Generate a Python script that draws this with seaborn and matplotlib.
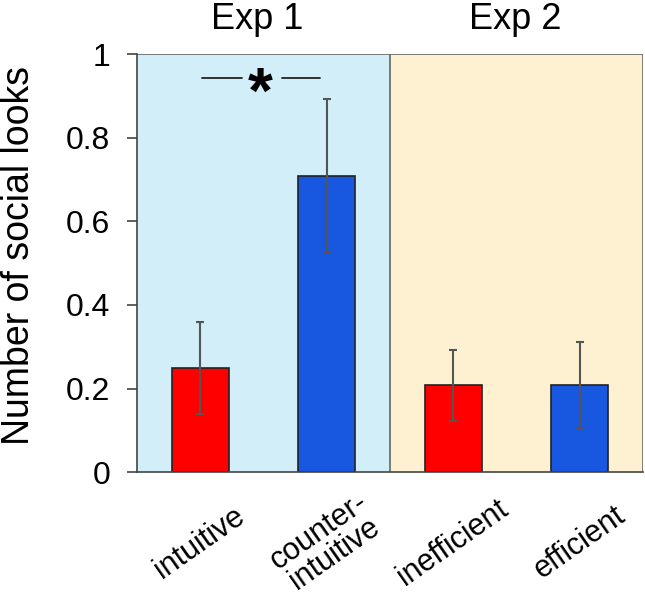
import matplotlib
matplotlib.use("Agg")
from matplotlib import pyplot as plt
import numpy as np
import pandas
import seaborn as sns

# data
conditions = ["intuitive", "counter-\nintuitive", "inefficient", "efficient"]
means = [0.25, 0.708, 0.208, 0.208]
errors = [0.11, 0.185, 0.085, 0.104]
bar_colors = ["#ff0000", "#1857e0", "#ff0000", "#1857e0"]
experiments = ["Exp 1", "Exp 2"]
exp_centers = [0.45, 2.49]
yticks = [0, 0.2, 0.4, 0.6, 0.8, 1]
ytick_labels = ["0", "0.2", "0.4", "0.6", "0.8", "1"]
sig_y = 0.943

dataframe = pandas.DataFrame({"condition": conditions, "looks": means})

sns.set_style("white")
plt.rcParams["font.family"] = ["Liberation Sans", "DejaVu Sans"]
plt.rcParams["text.color"] = "black"
plt.rcParams["axes.labelcolor"] = "black"
plt.rcParams["xtick.labelcolor"] = "black"
plt.rcParams["ytick.labelcolor"] = "black"

fig = plt.figure(figsize=(6.45, 6), dpi=100)
ax = fig.add_axes([0.212, 0.213, 0.785, 0.697])

# background panels for the two experiments
ax.axvspan(-0.5, 1.5, color="#d2eef9", zorder=0)
ax.axvspan(1.5, 3.5, color="#fdf1d2", zorder=0)
ax.axvline(1.5, color="#666666", linewidth=1.2, zorder=1)
ax.axhline(1.0, color="#666666", linewidth=1.2, zorder=1)
ax.axvline(3.5, color="#666666", linewidth=1.2, zorder=1)

sns.barplot(data=dataframe, x="condition", y="looks", hue="condition",
            palette=bar_colors, legend=False, width=0.45, ax=ax, saturation=1,
            edgecolor="#222222", linewidth=1.2, errorbar=None, zorder=2)
ax.errorbar(np.arange(len(means)), means, yerr=errors, fmt="none",
            ecolor="#555555", elinewidth=1.5, capsize=3, capthick=1.5, zorder=3)

# significance marker
ax.plot([0.015, 0.33], [sig_y, sig_y], color="#222222", linewidth=1.3)
ax.plot([0.645, 0.95], [sig_y, sig_y], color="#222222", linewidth=1.3)
ax.text(0.472, 0.90, "*", ha="center", va="center", fontsize=46, fontweight="bold")

for xc, label in zip(exp_centers, experiments):
    ax.text(xc, 1.04, label, ha="center", va="bottom", fontsize=26)

ax.set_xlim(-0.5, 3.5)
ax.set_ylim(0, 1)
ax.set_yticks(yticks)
ax.set_yticklabels(ytick_labels, fontsize=23)
ax.set_xticks(np.arange(len(conditions)))
ax.set_xticklabels(conditions, rotation=35, ha="center", va="center",
                   rotation_mode="anchor", fontsize=22, linespacing=0.9)
ax.tick_params(axis="y", direction="out", length=7, width=1.2, color="#444444", left=True, pad=12)
ax.tick_params(axis="x", length=0, pad=51)
ax.set_xlabel("")
ax.set_ylabel("Number of social looks", fontsize=27)
ax.yaxis.set_label_coords(-0.197, 0.517)

for side in ["top", "right"]:
    ax.spines[side].set_visible(False)
ax.spines["left"].set_color("#444444")
ax.spines["bottom"].set_color("#444444")
ax.spines["left"].set_linewidth(1.2)
ax.spines["bottom"].set_linewidth(1.2)
ax.set_zorder(1)

fig.savefig("out.png", dpi=100)
